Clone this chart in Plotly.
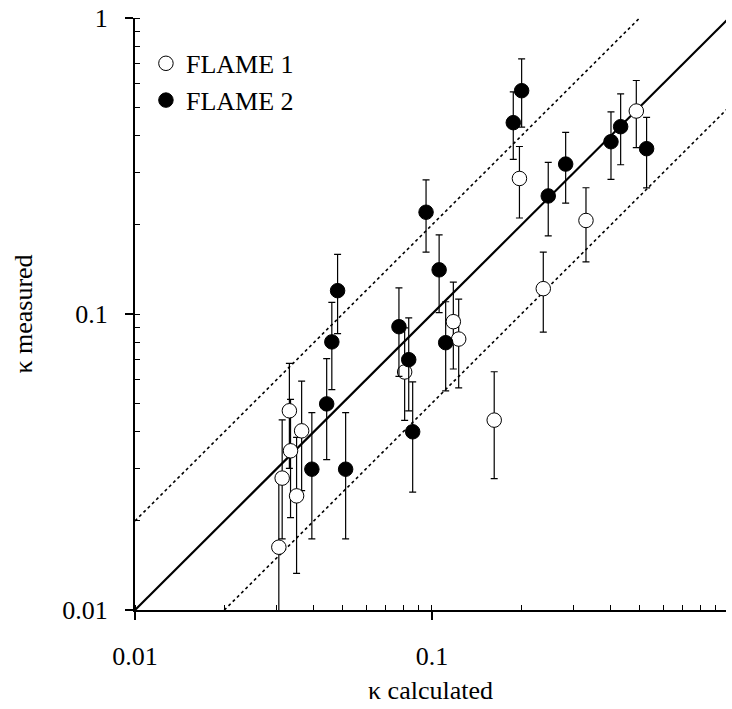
import plotly.graph_objects as go

# FLAME 1 (open circles)
f1_x = [0.0305, 0.0313, 0.0331, 0.0334, 0.0350, 0.0364, 0.0809, 0.118, 0.123, 0.162, 0.237, 0.197, 0.330, 0.4875]
f1_y = [0.0163, 0.0279, 0.0471, 0.0345, 0.0243, 0.0403, 0.0637, 0.0942, 0.0823, 0.0438, 0.1218, 0.287, 0.207, 0.485]
f1_up = [0.011, 0.016, 0.021, 0.017, 0.014, 0.019, 0.026, 0.034, 0.030, 0.020, 0.040, 0.081, 0.060, 0.13]
f1_dn = [0.008, 0.0105, 0.017, 0.014, 0.011, 0.015, 0.020, 0.029, 0.026, 0.016, 0.035, 0.076, 0.057, 0.12]

# FLAME 2 (filled circles)
f2_x = [0.0394, 0.0512, 0.0442, 0.0460, 0.0481, 0.0774, 0.0835, 0.0861, 0.0955, 0.1057, 0.1112,
        0.1878, 0.2004, 0.2463, 0.2819, 0.4006, 0.4318, 0.528]
f2_y = [0.0299, 0.0299, 0.0497, 0.0805, 0.1199, 0.0906, 0.0701, 0.0400, 0.2207, 0.141, 0.080,
        0.443, 0.568, 0.2505, 0.321, 0.382, 0.4293, 0.3618]
f2_up = [0.0165, 0.0165, 0.021, 0.029, 0.039, 0.032, 0.027, 0.019, 0.063, 0.044, 0.030,
         0.12, 0.16, 0.075, 0.09, 0.10, 0.125, 0.10]
f2_dn = [0.0125, 0.0125, 0.0175, 0.025, 0.034, 0.029, 0.023, 0.015, 0.059, 0.040, 0.025,
         0.11, 0.14, 0.067, 0.084, 0.097, 0.11, 0.095]

# reference lines y = k * x
ref_x = [0.01, 1.0]
ref_factors = [1.0, 2.0, 0.5]
ref_dash = ["solid", "dot", "dot"]
ref_width = [2.2, 1.6, 1.6]

x_tickvals = [0.01, 0.1]
x_ticktext = ["0.01", "0.1"]
y_tickvals = [0.01, 0.1, 1]
y_ticktext = ["0.01", "0.1", "1"]

FONT = "Liberation Serif, Times New Roman, serif"

fig = go.Figure()

for k, d, w in zip(ref_factors, ref_dash, ref_width):
    fig.add_trace(go.Scatter(
        x=ref_x, y=[k * v for v in ref_x], mode="lines",
        line=dict(color="black", width=w, dash=d),
        showlegend=False, hoverinfo="skip"))

err_style = dict(type="data", symmetric=False, color="black", thickness=1.2, width=3.5)

fig.add_trace(go.Scatter(
    x=f1_x, y=f1_y, mode="markers", name="FLAME 1",
    marker=dict(symbol="circle", size=14.5, color="white", line=dict(color="black", width=1)),
    error_y=dict(array=f1_up, arrayminus=f1_dn, **err_style)))

fig.add_trace(go.Scatter(
    x=f2_x, y=f2_y, mode="markers", name="FLAME 2",
    marker=dict(symbol="circle", size=14.5, color="black", line=dict(color="black", width=1)),
    error_y=dict(array=f2_up, arrayminus=f2_dn, **err_style)))

axis_common = dict(
    type="log", showgrid=False, zeroline=False, showline=True, automargin=False,
    linecolor="black", linewidth=2, mirror=False,
    ticks="outside", ticklen=8, tickwidth=1.5, tickcolor="black",
    minor=dict(ticks="inside", ticklen=5, tickwidth=1, tickcolor="black", dtick="D1", showgrid=False),
    tickfont=dict(family=FONT, size=26, color="black"),
)

fig.update_xaxes(
    range=[-2, -0.01], tickmode="array", tickvals=x_tickvals, ticktext=x_ticktext,
    ticklabelstandoff=14,
    title=dict(text="κ calculated", font=dict(family=FONT, size=26, color="black"), standoff=11),
    **axis_common)
fig.update_yaxes(
    range=[-2, 0], tickmode="array", tickvals=y_tickvals, ticktext=y_ticktext,
    ticklabelstandoff=12,
    title=dict(text="κ measured", font=dict(family=FONT, size=26, color="black"), standoff=22),
    **axis_common)

fig.update_layout(
    width=732, height=709,
    margin=dict(l=135, r=6, t=18, b=99),
    paper_bgcolor="white", plot_bgcolor="white",
    font=dict(family=FONT, size=26, color="black"),
    legend=dict(x=0.0185, y=0.963, xanchor="left", yanchor="top",
                bgcolor="rgba(0,0,0,0)", borderwidth=0,
                font=dict(family=FONT, size=26, color="black"),
                itemwidth=30, tracegroupgap=0),
)

fig.write_html(
    "out.html",
    config={"displayModeBar": False},
    post_script="document.body.style.margin='0';document.body.style.overflow='hidden';",
)
